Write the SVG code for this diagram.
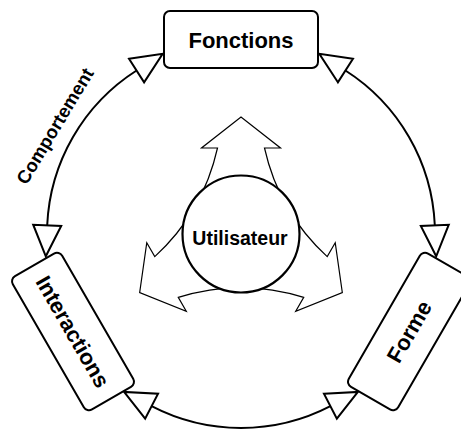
<svg xmlns="http://www.w3.org/2000/svg" width="461" height="432" viewBox="0 0 461 432">
<style>
  .box { fill: #ffffff; stroke: #000000; stroke-width: 2; }
  .lbl { font-family: "Liberation Sans", Arial, Helvetica, sans-serif; font-weight: bold; fill: #000000; text-anchor: middle; }
  .conn { fill: none; stroke: #000000; stroke-width: 2; marker-start: url(#ahs); marker-end: url(#ahe); }
  .tri { fill: #ffffff; stroke: #000000; stroke-width: 2; stroke-linejoin: miter; }
  .three { fill: #ffffff; stroke: #000000; stroke-width: 1.2; stroke-linejoin: miter; }
</style>
<defs>
  <marker id="ahe" viewBox="-3 -18 38 36" markerWidth="38" markerHeight="36" refX="0" refY="0" markerUnits="userSpaceOnUse" orient="auto">
    <path class="tri" d="M0,-14 L31,0 L0,14 Z"/>
  </marker>
  <marker id="ahs" viewBox="-3 -18 38 36" markerWidth="38" markerHeight="36" refX="0" refY="0" markerUnits="userSpaceOnUse" orient="auto-start-reverse">
    <path class="tri" d="M0,-14 L31,0 L0,14 Z"/>
  </marker>
</defs>

<g id="connectors">
  <path id="c-interactions-fonctions" class="conn" d="M47.19,225.33 A194,194 0 0 1 136.57,70.50"/>
  <path id="c-fonctions-forme" class="conn" d="M345.43,70.50 A194,194 0 0 1 434.81,225.33"/>
  <path id="c-forme-interactions" class="conn" d="M330.40,406.17 A194,194 0 0 1 151.60,406.17"/>
  <text class="lbl" font-size="18.5" transform="translate(60.5,129.3) rotate(-59)">Comportement</text>
</g>

<g id="fonctions">
  <rect class="box" x="164" y="11" width="154" height="57" rx="6" ry="6"/>
  <text class="lbl" font-size="22" x="241" y="48">Fonctions</text>
</g>

<g id="forme" transform="translate(409,331.5) rotate(-60)">
  <rect class="box" x="-77" y="-28.5" width="154" height="57" rx="6" ry="6"/>
  <text class="lbl" font-size="22" x="0" y="8">Forme</text>
</g>

<g id="interactions" transform="translate(73,331.5) rotate(60)">
  <rect class="box" x="-77" y="-28.5" width="154" height="57" rx="6" ry="6"/>
  <text class="lbl" font-size="22" x="0" y="8">Interactions</text>
</g>

<g id="utilisateur">
  <path class="three" d="M217.5,148 L201.5,148 L241,117 L280.5,148 L264.5,148 A210,210 0 0 0 327.23,256.65 L335.23,242.79 L342.32,292.5 L295.73,311.21 L303.73,297.35 A210,210 0 0 0 178.27,297.35 L186.27,311.21 L139.68,292.5 L146.77,242.79 L154.77,256.65 A210,210 0 0 0 217.5,148 Z"/>
  <circle cx="241" cy="234" r="58.5" fill="#ffffff" stroke="#000000" stroke-width="2.2"/>
  <text class="lbl" font-size="19.5" x="240" y="245">Utilisateur</text>
</g>
</svg>
